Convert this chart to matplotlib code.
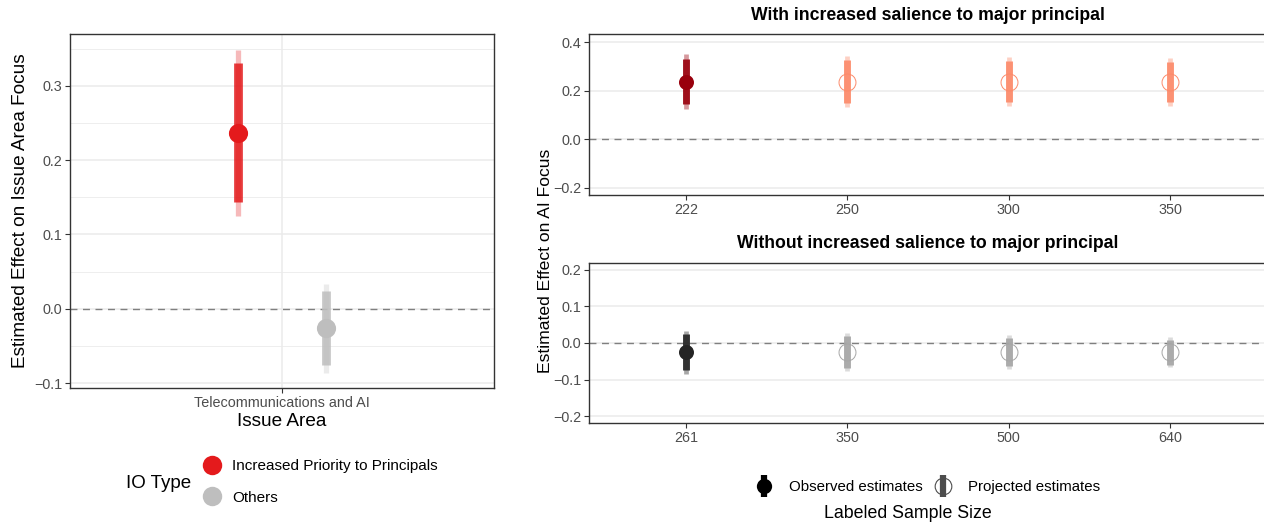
import matplotlib
matplotlib.use("Agg")
import matplotlib.pyplot as plt
from matplotlib.lines import Line2D
from matplotlib.legend_handler import HandlerTuple

plt.rcParams['font.family'] = ['Liberation Sans', 'DejaVu Sans']

# left panel: effect by IO type
issue_area = 'Telecommunications and AI'
io_types = ['Increased Priority to Principals', 'Others']
io_colors = ['#E41A1C', '#BEBEBE']
left_est = [0.237, -0.026]
left_lo90 = [0.143, -0.076]
left_hi90 = [0.330, 0.024]
left_lo95 = [0.125, -0.086]
left_hi95 = [0.348, 0.033]

# right panels: observed vs projected by labeled sample size
top_sizes = ['222', '250', '300', '350']
top_est = [0.237, 0.237, 0.237, 0.237]
top_lo90 = [0.144, 0.148, 0.152, 0.155]
top_hi90 = [0.330, 0.326, 0.322, 0.319]
top_lo95 = [0.126, 0.131, 0.136, 0.138]
top_hi95 = [0.350, 0.344, 0.339, 0.336]

bot_sizes = ['261', '350', '500', '640']
bot_est = [-0.0255, -0.0255, -0.0255, -0.0255]
bot_lo90 = [-0.074, -0.069, -0.064, -0.060]
bot_hi90 = [0.024, 0.019, 0.013, 0.009]
bot_lo95 = [-0.084, -0.077, -0.071, -0.067]
bot_hi95 = [0.034, 0.027, 0.021, 0.016]

W, H = 1264, 525
fig = plt.figure(figsize=(W / 100, H / 100), dpi=100)

def box(x0, y0, x1, y1):
    return [x0 / W, 1 - y1 / H, (x1 - x0) / W, (y1 - y0) / H]

def style(ax, tick_size=10.4):
    for s in ax.spines.values():
        s.set_color('#333333')
        s.set_linewidth(1.0)
    ax.tick_params(axis='both', which='major', length=3.5, width=0.8, color='#333333',
                   labelcolor='#4D4D4D', labelsize=tick_size, pad=2)
    ax.tick_params(axis='both', which='minor', length=0)
    ax.set_axisbelow(True)

# ---- left panel
ax = fig.add_axes(box(70, 34, 494, 388))
style(ax)
ax.set_xlim(0.4, 1.6)
ax.set_ylim(-0.1067, 0.3696)
ax.set_yticks([-0.1, 0.0, 0.1, 0.2, 0.3])
ax.set_yticklabels(['\u22120.1', '0.0', '0.1', '0.2', '0.3'])
ax.set_yticks([-0.05, 0.05, 0.15, 0.25, 0.35], minor=True)
ax.set_xticks([1.0])
ax.set_xticklabels([issue_area])
ax.tick_params(axis='x', pad=2.2)
ax.grid(True, which='major', color='#EBEBEB', lw=1.1)
ax.grid(True, which='minor', axis='y', color='#EBEBEB', lw=0.6)
ax.axhline(0, color='#7F7F7F', lw=1.0, ls=(0, (5, 4)))
for i, (name, c) in enumerate(zip(io_types, io_colors)):
    x = 1.0 + (-0.125 if i == 0 else 0.125)
    ax.vlines(x, left_lo95[i], left_hi95[i], color=c, alpha=0.3, lw=3.8, capstyle='butt')
    ax.vlines(x, left_lo90[i], left_hi90[i], color=c, alpha=0.85, lw=6.3, capstyle='butt')
    ax.plot([x], [left_est[i]], 'o', ms=13.8, color=c, mew=0)
ax.set_ylabel('Estimated Effect on Issue Area Focus', fontsize=13.7, labelpad=4)
ax.set_xlabel('Issue Area', fontsize=13.7, labelpad=2.5)

leg_handles = [Line2D([], [], marker='o', ls='', ms=14, color=c, mew=0) for c in io_colors]
fig.legend(leg_handles, io_types, loc='center left', bbox_to_anchor=(203 / W, 1 - 482 / H),
           frameon=False, fontsize=11, handlelength=1.2, handletextpad=0.7,
           labelspacing=1.15, borderpad=0, borderaxespad=0)
fig.text(126 / W, 1 - 483 / H, 'IO Type', fontsize=13.5, va='center', ha='left')

# ---- right panels
def sample_panel(ax, sizes, est, lo90, hi90, lo95, hi95, obs_color, proj_color, yticks, ylim):
    style(ax)
    xs = list(range(len(sizes)))
    ax.set_xlim(-0.6, 3.6)
    ax.set_ylim(*ylim)
    ax.set_yticks(yticks)
    ax.set_yticklabels([('\u2212' if v < 0 else '') + f'{abs(v):.1f}' for v in yticks])
    ax.set_xticks(xs)
    ax.set_xticklabels(sizes)
    ax.grid(True, which='major', axis='y', color='#EBEBEB', lw=1.1)
    ax.axhline(0, color='#7F7F7F', lw=1.0, ls=(0, (5, 4)))
    for i in xs:
        c = obs_color if i == 0 else proj_color
        ax.vlines(i, lo95[i], hi95[i], color=c, alpha=0.4, lw=3.4, capstyle='butt')
        ax.vlines(i, lo90[i], hi90[i], color=c, alpha=0.9, lw=5.0, capstyle='butt')
        if i == 0:
            ax.plot([i], [est[i]], 'o', ms=10.8, color=c, mew=0)
        else:
            ax.plot([i], [est[i]], 'o', ms=12.2, mfc='none', mec=c, mew=0.7)

ax_top = fig.add_axes(box(589, 34, 1267, 195))
sample_panel(ax_top, top_sizes, top_est, top_lo90, top_hi90, top_lo95, top_hi95,
             '#99000D', '#FC8A6A', [-0.2, 0.0, 0.2, 0.4], (-0.229, 0.433))
fig.text(928 / W, 1 - 15 / H, 'With increased salience to major principal',
         fontsize=12.7, fontweight='bold', ha='center', va='center')

ax_bot = fig.add_axes(box(589, 263, 1267, 423))
sample_panel(ax_bot, bot_sizes, bot_est, bot_lo90, bot_hi90, bot_lo95, bot_hi95,
             '#252525', '#A6A6A6', [-0.2, -0.1, 0.0, 0.1, 0.2], (-0.219, 0.219))
fig.text(928 / W, 1 - 244 / H, 'Without increased salience to major principal',
         fontsize=12.7, fontweight='bold', ha='center', va='center')

fig.text(545 / W, 1 - 261 / H, 'Estimated Effect on AI Focus', fontsize=12.6,
         rotation=90, ha='center', va='center')
fig.text(908 / W, 1 - 514 / H, 'Labeled Sample Size', fontsize=12.8, ha='center', va='center')

obs_key = (Line2D([], [], marker='|', ls='', ms=16, mew=4.5, color='black'),
           Line2D([], [], marker='o', ls='', ms=11, mew=0, color='black'))
proj_key = (Line2D([], [], marker='|', ls='', ms=16, mew=4.5, color='#4D4D4D'),
            Line2D([], [], marker='o', ls='', ms=12, mfc='none', mec='#4D4D4D', mew=0.8))
fig.legend([obs_key, proj_key], ['Observed estimates', 'Projected estimates'],
           handler_map={tuple: HandlerTuple(ndivide=1)},
           loc='center', bbox_to_anchor=(928 / W, 1 - 487 / H), ncol=2, frameon=False,
           fontsize=10.8, handlelength=1.0, handletextpad=1.17, columnspacing=0.83,
           borderpad=0, borderaxespad=0)

fig.savefig('out.png', dpi=100)
